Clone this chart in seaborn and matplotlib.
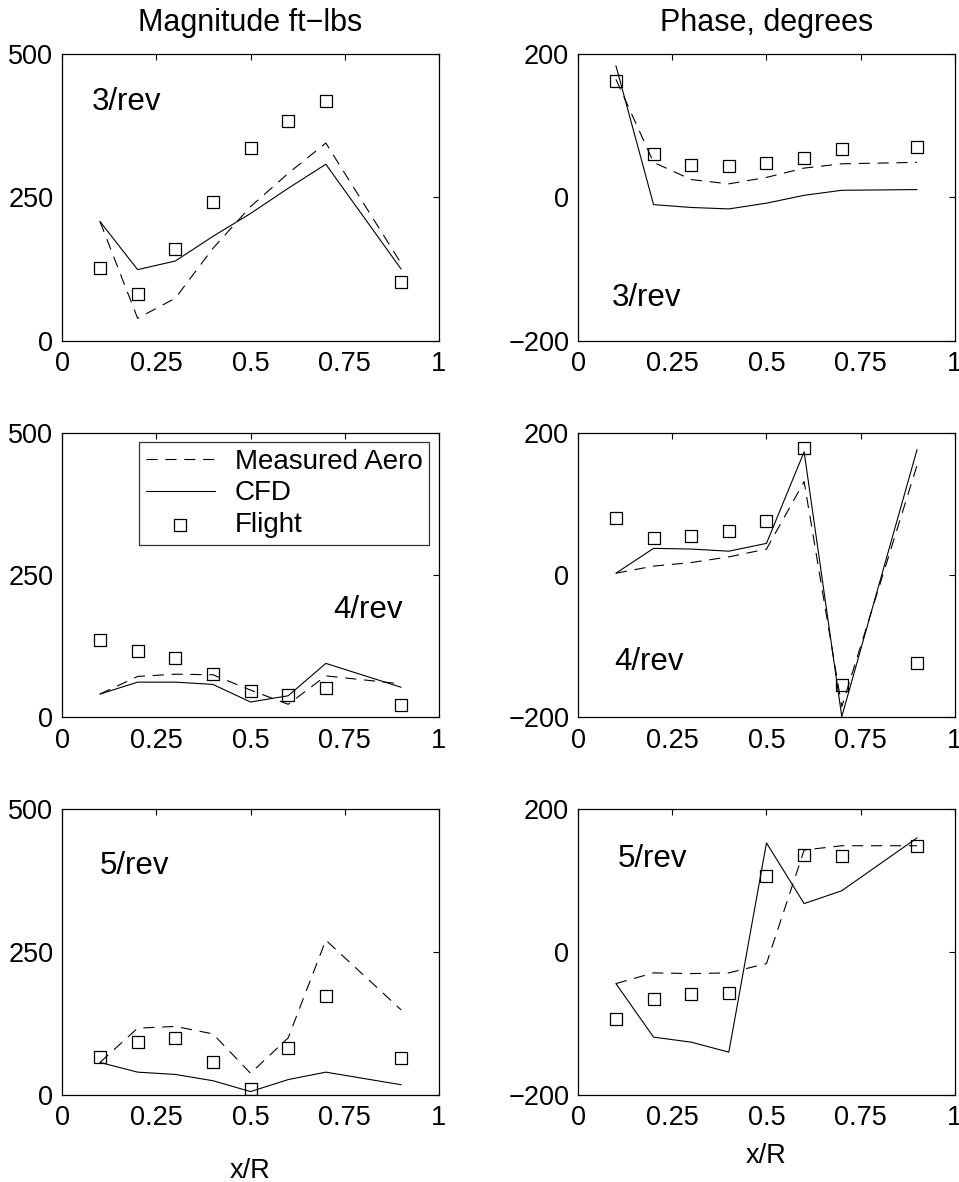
import numpy as np
import pandas as pd
import matplotlib
matplotlib.use("Agg")
import matplotlib.pyplot as plt
import seaborn as sns

# Radial stations
x_r = [0.1, 0.2, 0.3, 0.4, 0.5, 0.6, 0.7, 0.9]

# Magnitude, ft-lbs
mag3_meas = [208, 39, 74, 161, 234, 292, 345, 135]
mag3_cfd = [208, 124, 139, 182, 222, 266, 308, 125]
mag3_flt = [127, 81, 160, 242, 336, 384, 418, 103]

mag4_meas = [41, 72, 76, 75, 48, 23, 73, 59]
mag4_cfd = [41, 62, 62, 58, 27, 38, 95, 53]
mag4_flt = [137, 117, 104, 77, 46, 40, 51, 22]

mag5_meas = [57, 117, 120, 107, 38, 100, 271, 149]
mag5_cfd = [57, 40, 36, 25, 6, 27, 40, 18]
mag5_flt = [66, 93, 100, 57, 11, 83, 173, 64]

# Phase, degrees
ph3_meas = [165, 49, 25, 19, 28, 41, 47, 49]
ph3_cfd = [184, -10, -14, -16, -8, 3, 10, 11]
ph3_flt = [162, 61, 45, 44, 48, 55, 68, 70]

ph4_meas = [3, 13, 18, 26, 37, 132, -185, 155]
ph4_cfd = [3, 38, 37, 34, 45, 174, -199, 177]
ph4_flt = [81, 53, 55, 63, 77, 180, -154, -124]

ph5_meas = [-44, -29, -30, -29, -16, 143, 149, 149]
ph5_cfd = [-44, -119, -126, -140, 153, 68, 86, 160]
ph5_flt = [-94, -66, -58, -57, 106, 136, 134, 149]

harmonic_labels = ["3/rev", "4/rev", "5/rev"]
series_names = ["Measured Aero", "CFD", "Flight"]

sns.set_style("white")
plt.rcParams["font.family"] = ["Liberation Sans", "DejaVu Sans"]
plt.rcParams["font.size"] = 19.5
plt.rcParams["axes.unicode_minus"] = True
for key in ["text.color", "axes.labelcolor", "xtick.color", "ytick.color",
            "axes.edgecolor"]:
    plt.rcParams[key] = "black"

fig = plt.figure(figsize=(9.59, 11.82), dpi=100)

col_left = [0.0650, 0.6030]
col_w = 0.3925
row_bottom = [0.7118, 0.3931, 0.0736]
row_h = [0.2423, 0.2403, 0.2417]

panels = [
    [(mag3_meas, mag3_cfd, mag3_flt), (ph3_meas, ph3_cfd, ph3_flt)],
    [(mag4_meas, mag4_cfd, mag4_flt), (ph4_meas, ph4_cfd, ph4_flt)],
    [(mag5_meas, mag5_cfd, mag5_flt), (ph5_meas, ph5_cfd, ph5_flt)],
]

# Harmonic label positions in data coordinates (x, y) per panel
label_pos = [
    [(0.077, 417), (0.09, -140)],
    [(0.72, 189), (0.095, -122)],
    [(0.098, 401), (0.106, 130)],
]

dash_style = (0, (10, 7))

for r in range(3):
    for c in range(2):
        ax = fig.add_axes([col_left[c], row_bottom[r], col_w, row_h[r]])
        meas, cfd, flt = panels[r][c]
        df = pd.DataFrame({"x": x_r, "meas": meas, "cfd": cfd, "flt": flt})
        sns.lineplot(data=df, x="x", y="meas", ax=ax, color="black", lw=0.8,
                     linestyle=dash_style, label=series_names[0],
                     sort=False, estimator=None)
        sns.lineplot(data=df, x="x", y="cfd", ax=ax, color="black", lw=0.8,
                     label=series_names[1], sort=False, estimator=None)
        sns.scatterplot(data=df, x="x", y="flt", ax=ax, marker="s", s=75,
                        facecolors="none", edgecolor="black", linewidth=0.9,
                        label=series_names[2])
        ax.set_xlim(0, 1)
        ax.set_xticks([0, 0.25, 0.5, 0.75, 1])
        ax.set_xticklabels(["0", "0.25", "0.5", "0.75", "1"])
        if c == 0:
            ax.set_ylim(0, 500)
            ax.set_yticks([0, 250, 500])
        else:
            ax.set_ylim(-200, 200)
            ax.set_yticks([-200, 0, 200])
        ax.tick_params(direction="in", length=4, width=0.8, top=True, right=True,
                       labelsize=19.5, colors="black")
        ax.tick_params(axis="x", pad=7.5)
        ax.tick_params(axis="y", pad=6.5)
        for sp in ax.spines.values():
            sp.set_visible(True)
            sp.set_color("black")
            sp.set_linewidth(0.9)
        ax.set_xlabel("")
        ax.set_ylabel("")
        tx, ty = label_pos[r][c]
        ax.text(tx, ty, harmonic_labels[r], fontsize=22.5, ha="left", va="center")
        if r == 0:
            ax.set_title("Magnitude ft\u2212lbs" if c == 0 else "Phase, degrees",
                         fontsize=22, pad=16.5)
        if r == 2:
            ax.set_xlabel("x/R", fontsize=19.5, labelpad=19 if c == 0 else 8)
        handles, labels = ax.get_legend_handles_labels()
        if ax.get_legend() is not None:
            ax.get_legend().remove()
        if r == 1 and c == 0:
            leg = ax.legend(handles, labels, loc="upper right",
                            bbox_to_anchor=(0.975, 0.97), borderaxespad=0,
                            frameon=True, fancybox=False, edgecolor="black",
                            fontsize=20, handlelength=2.5, handletextpad=0.7,
                            borderpad=0.25, labelspacing=0.2)
            leg.get_frame().set_linewidth(0.9)

fig.savefig("out.png", dpi=100)
